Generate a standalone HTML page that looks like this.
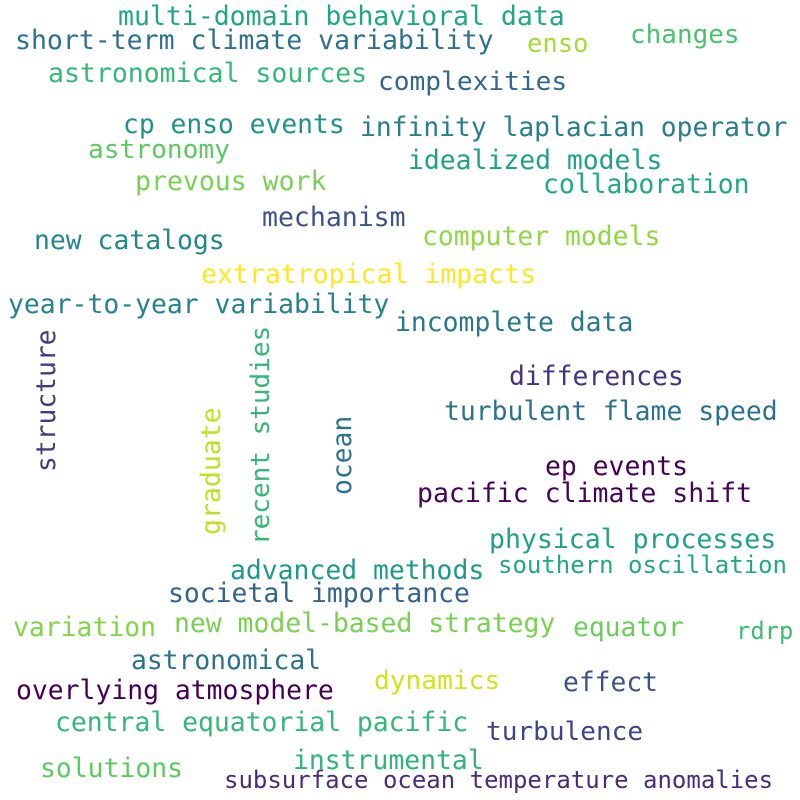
<!DOCTYPE html>
<html><head><meta charset="utf-8">
<style>
html,body{margin:0;padding:0;background:#fff;}
svg{display:block;}
text{font-family:"DejaVu Sans Mono","Liberation Mono",monospace;}
</style></head>
<body>
<svg id="cloud" width="800" height="800" viewBox="0 0 800 800">
<rect width="800" height="800" fill="#fff"/>
<g id="words"></g>
</svg>
<script>
const words = ["multi-domain behavioral data","short-term climate variability","enso","changes","astronomical sources","complexities","cp enso events","infinity laplacian operator","astronomy","idealized models","prevous work","collaboration","mechanism","new catalogs","computer models","extratropical impacts","year-to-year variability","incomplete data","structure","recent studies","graduate","ocean","differences","turbulent flame speed","ep events","pacific climate shift","physical processes","southern oscillation","advanced methods","societal importance","variation","new model-based strategy","equator","rdrp","astronomical","overlying atmosphere","dynamics","effect","central equatorial pacific","turbulence","instrumental","solutions","subsurface ocean temperature anomalies"];
const sizes = [26.5,26.5,25.5,26,26.5,26.2,26.3,26.3,26.2,26.4,26.5,26.4,26.5,26.4,26.4,26.5,26.4,26.4,26.3,26,26.5,26.3,26.4,26.4,26.4,26.5,26.5,24,26.4,26.4,26.4,26.4,26.3,23.8,26.3,26.4,26.2,26.3,26.4,26.1,26.4,26.4,24];
const colors = ["#21a685","#2c728e","#a5db36","#4ac16d","#35b779","#31688e","#20928c","#287d8e","#5ec962","#1fa088","#7ad151","#22a884","#3b528b","#24868e","#8fd744","#fde725","#26828e","#2a788e","#443a83","#35b779","#c2df23","#2c728e","#46337e","#2c728e","#440154","#450457","#1fa088","#22a884","#1f9a8a","#33638d","#84d44b","#7ad151","#6ccd5a","#3dbc74","#2c728e","#440154","#d2e21b","#3b528b","#35b779","#414487","#2fb47c","#5ec962","#472d7b"];
const xs = [118,15,527,630,48,378,123,360,88,408,135,543,262,34,422,201,8,395,55,269,220,351,509,444,545,417,489,498,230,168,13,174,573,736,131,16,374,563,55,486,293,40,224];
const ys = [25,49,52,43,82,90,133,136,158,169,190,193,226,249,245,283,313,331,472,545,535,495,385,420,475,502,548,573,579,602,636,632,636,639,669,699,689,691,731,740,769,777,788];
const vertical = [0,0,0,0,0,0,0,0,0,0,0,0,0,0,0,0,0,0,1,1,1,1,0,0,0,0,0,0,0,0,0,0,0,0,0,0,0,0,0,0,0,0,0];
const g = document.getElementById('words');
const NS = 'http://www.w3.org/2000/svg';
for (let i = 0; i < words.length; i++) {
  const t = document.createElementNS(NS, 'text');
  t.setAttribute('x', xs[i]);
  t.setAttribute('y', ys[i]);
  t.setAttribute('font-size', sizes[i]);
  t.setAttribute('fill', colors[i]);
  if (vertical[i]) t.setAttribute('transform', 'rotate(-90 ' + xs[i] + ' ' + ys[i] + ')');
  t.textContent = words[i];
  
  
  g.appendChild(t);
}
</script>
</body></html>
